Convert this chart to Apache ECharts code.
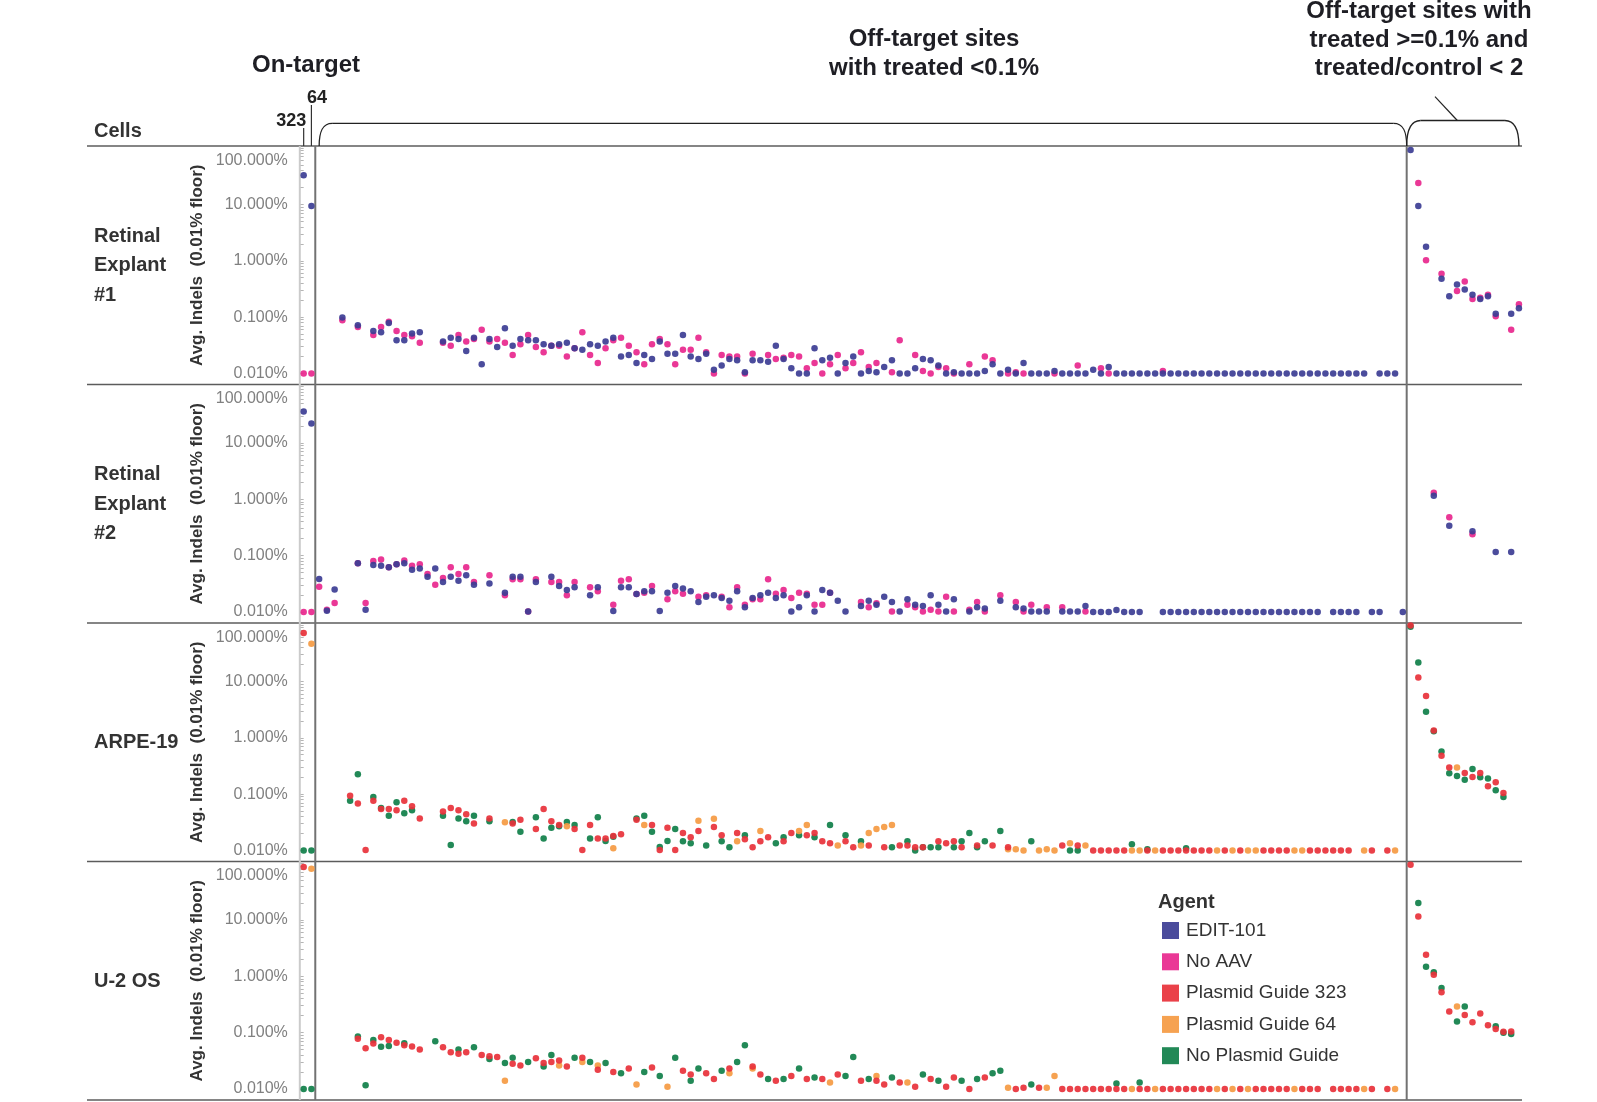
<!DOCTYPE html>
<html><head><meta charset="utf-8">
<script src="https://cdn.jsdelivr.net/npm/echarts@6/dist/echarts.min.js"></script>
<style>html,body{margin:0;padding:0;background:#fff}#main{width:1597px;height:1102px}</style>
</head><body><div id="main"></div>
<script>
const FONT = "'Liberation Sans', Arial, Helvetica, sans-serif";
const FLOOR = 0.01; // 0.01% floor

// ---- categories ----
const agents = ['EDIT-101', 'No AAV', 'Plasmid Guide 323', 'Plasmid Guide 64', 'No Plasmid Guide'];
const agentColors = ['#3c3d94', '#e8278d', '#e8313a', '#f59a42', '#0f7f49'];
const cellLines = ['Retinal\nExplant\n#1', 'Retinal\nExplant\n#2', 'ARPE-19', 'U-2 OS'];
const onTargetSites = ['323', '64'];
const N_ON = 2, N_LOW = 141, N_HIGH = 15;       // site groups along x
const N_SITES = N_ON + N_LOW + N_HIGH;

// ---- values: [site index, avg indels %] ----
const ex1_EDIT101 = [[0,33],[1,9.4],[5,0.098],[7,0.072],[9,0.057],[10,0.054],[11,0.079],[12,0.039],[13,0.039],[14,0.051],[15,0.054],[18,0.037],[19,0.043],[20,0.041],[21,0.025],[22,0.043],[23,0.0146],[24,0.041],[25,0.0296],[26,0.0635],[27,0.031],[28,0.041],[29,0.039],[30,0.039],[31,0.033],[32,0.031],[33,0.033],[34,0.035],[35,0.028],[36,0.0265],[37,0.033],[38,0.031],[39,0.037],[40,0.043],[41,0.020],[42,0.0213],[43,0.0154],[44,0.0213],[45,0.018],[46,0.037],[47,0.0225],[48,0.0225],[49,0.048],[50,0.020],[51,0.018],[52,0.0225],[53,0.0117],[54,0.0138],[55,0.018],[56,0.0171],[57,0.0105],[58,0.0171],[59,0.0171],[60,0.0162],[61,0.031],[62,0.018],[63,0.0124],[64,0.01],[65,0.01],[66,0.028],[67,0.0171],[68,0.0191],[69,0.01],[70,0.0154],[71,0.020],[72,0.01],[73,0.0111],[74,0.0105],[75,0.013],[76,0.0171],[77,0.01],[78,0.01],[79,0.0124],[80,0.018],[81,0.0171],[82,0.0138],[83,0.01],[84,0.0105],[85,0.01],[86,0.01],[87,0.01],[88,0.0111],[89,0.0146],[90,0.01],[91,0.0117],[92,0.01],[93,0.0154],[94,0.01],[95,0.01],[96,0.01],[97,0.0111],[98,0.01],[99,0.01],[100,0.01],[101,0.01],[102,0.0117],[103,0.01],[104,0.013],
  [143,92],[144,9.4],[145,1.77],[147,0.48],[148,0.235],[149,0.38],[150,0.31],[151,0.25],[152,0.21],[153,0.235],[154,0.115],[156,0.115],[157,0.144]];
const ex1_EDIT101_floorSites = [105,106,107,108,109,110,111,112,113,114,115,116,117,118,119,120,121,122,123,124,125,126,127,128,129,130,131,132,133,134,135,136,137,139,140,141];
const ex1_NoAAV = [[0,0.01],[1,0.01],[5,0.088],[7,0.067],[9,0.048],[10,0.067],[11,0.083],[12,0.057],[13,0.048],[14,0.046],[15,0.035],[18,0.035],[19,0.031],[20,0.048],[21,0.037],[22,0.041],[23,0.060],[24,0.037],[25,0.041],[26,0.035],[27,0.0213],[28,0.033],[29,0.048],[30,0.0296],[31,0.0238],[32,0.031],[33,0.031],[34,0.020],[35,0.028],[36,0.054],[37,0.0213],[38,0.0154],[39,0.028],[40,0.039],[41,0.043],[42,0.031],[43,0.0238],[44,0.0146],[45,0.033],[46,0.041],[47,0.033],[48,0.0146],[49,0.0265],[50,0.0265],[51,0.043],[52,0.0238],[53,0.01],[54,0.0213],[55,0.020],[56,0.020],[57,0.01],[58,0.0225],[60,0.0213],[61,0.018],[62,0.019],[63,0.0213],[64,0.020],[65,0.0124],[66,0.0154],[67,0.01],[68,0.0146],[69,0.0213],[70,0.0124],[71,0.0154],[72,0.0238],[73,0.013],[74,0.0154],[76,0.0105],[77,0.039],[79,0.0213],[80,0.0111],[81,0.01],[82,0.013],[83,0.0124],[84,0.01],[86,0.0146],[88,0.020],[89,0.0171],[91,0.01],[92,0.0105],[93,0.01],[97,0.01],[100,0.0138],[103,0.0124],[104,0.01],[111,0.0111],
  [144,24],[145,1.02],[147,0.59],[149,0.29],[150,0.43],[151,0.21],[152,0.22],[153,0.25],[154,0.104],[156,0.06],[157,0.17]];

const ex2_EDIT101 = [[0,36],[1,22],[2,0.0385],[3,0.0105],[4,0.025],[7,0.073],[8,0.011],[9,0.068],[10,0.066],[11,0.062],[12,0.07],[13,0.073],[14,0.056],[15,0.059],[16,0.042],[17,0.059],[18,0.034],[19,0.042],[20,0.036],[21,0.045],[22,0.0305],[24,0.032],[26,0.022],[27,0.042],[28,0.042],[29,0.0102],[30,0.034],[32,0.042],[33,0.029],[34,0.0246],[35,0.0274],[37,0.0198],[38,0.0274],[40,0.0104],[41,0.0274],[42,0.0274],[43,0.0209],[44,0.0233],[45,0.0233],[46,0.0104],[47,0.022],[48,0.029],[49,0.026],[50,0.0233],[51,0.015],[52,0.0187],[53,0.0198],[54,0.0177],[55,0.0159],[56,0.0233],[57,0.0121],[58,0.0177],[59,0.0198],[60,0.022],[61,0.0177],[62,0.0198],[63,0.0102],[64,0.0121],[65,0.0198],[66,0.0102],[67,0.0246],[68,0.022],[69,0.0159],[70,0.0102],[72,0.0128],[73,0.0159],[74,0.0135],[75,0.0187],[76,0.015],[77,0.0102],[78,0.0168],[79,0.0135],[80,0.0128],[81,0.0198],[82,0.0135],[83,0.0102],[84,0.0168],[86,0.0102],[87,0.0121],[88,0.0115],[90,0.0159],[92,0.0121],[93,0.0115],[94,0.0102],[95,0.0102],[96,0.0102],[98,0.0102],[99,0.0102],[100,0.0102],[101,0.0128],[105,0.0108],
  [146,1.15],[148,0.34],[151,0.27],[154,0.116],[156,0.116]];
const ex2_EDIT101_floorSites = [102,103,104,106,107,108,111,112,113,114,115,116,117,118,119,120,121,122,123,124,125,126,127,128,129,130,131,133,134,135,136,138,139,142];
const ex2_NoAAV = [[0,0.01],[1,0.01],[2,0.028],[3,0.011],[4,0.0145],[7,0.073],[8,0.0145],[9,0.08],[10,0.085],[11,0.062],[12,0.07],[13,0.082],[14,0.066],[15,0.07],[16,0.047],[17,0.0305],[18,0.04],[19,0.062],[20,0.047],[21,0.062],[22,0.034],[24,0.045],[26,0.0198],[27,0.038],[28,0.038],[29,0.0102],[30,0.038],[32,0.034],[33,0.034],[34,0.0198],[35,0.034],[37,0.0274],[38,0.0233],[40,0.0135],[41,0.036],[42,0.038],[43,0.0209],[44,0.022],[45,0.029],[47,0.0168],[48,0.0233],[49,0.021],[51,0.0187],[52,0.0198],[54,0.0187],[55,0.0121],[56,0.0274],[57,0.0135],[58,0.0168],[59,0.0168],[60,0.038],[61,0.021],[62,0.0246],[63,0.0177],[64,0.022],[65,0.021],[66,0.0135],[67,0.0135],[68,0.022],[72,0.015],[73,0.0121],[74,0.0143],[76,0.0102],[78,0.0135],[79,0.0121],[80,0.0102],[81,0.011],[82,0.0102],[83,0.0187],[84,0.0102],[86,0.011],[87,0.015],[88,0.0102],[90,0.0198],[92,0.015],[93,0.0102],[94,0.0135],[96,0.0121],[98,0.0121],[101,0.0102],
  [146,1.3],[148,0.48],[151,0.24]];

const arpe_PG323 = [[0,72],[6,0.094],[7,0.068],[8,0.0102],[9,0.076],[10,0.0546],[11,0.0546],[12,0.052],[13,0.076],[14,0.061],[15,0.037],[18,0.049],[19,0.057],[20,0.052],[21,0.044],[22,0.03],[24,0.037],[27,0.03],[28,0.035],[30,0.024],[31,0.0546],[32,0.033],[33,0.0284],[35,0.024],[36,0.0102],[37,0.0284],[38,0.0164],[39,0.0164],[40,0.018],[41,0.0194],[43,0.035],[45,0.0284],[46,0.0102],[47,0.0254],[48,0.0102],[49,0.0204],[50,0.0172],[51,0.0221],[53,0.0261],[54,0.0187],[56,0.0204],[57,0.0159],[58,0.0114],[59,0.0146],[60,0.0172],[62,0.0146],[63,0.0204],[65,0.0187],[66,0.0204],[67,0.0146],[68,0.0134],[70,0.0146],[71,0.0114],[73,0.0123],[75,0.0114],[77,0.0123],[78,0.0123],[79,0.0114],[80,0.0114],[82,0.0146],[83,0.0134],[84,0.0146],[85,0.0114],[87,0.0123],[89,0.0123],[91,0.0114],[98,0.0123],[100,0.0123],[102,0.01],
  [143,98],[144,11.7],[145,5.5],[146,1.35],[147,0.48],[148,0.296],[150,0.238],[151,0.202],[152,0.238],[153,0.138],[154,0.163],[155,0.105]];
const arpe_PG323_floorSites = [103,104,105,106,109,111,112,113,114,115,116,117,119,121,124,125,126,127,130,131,132,133,134,135,138,140];
const arpe_PG64 = [[1,46.5],[26,0.0317],[34,0.027],[40,0.011],[44,0.0284],[51,0.0336],[53,0.0364],[56,0.0146],[59,0.0221],[64,0.0221],[65,0.0284],[69,0.0123],[72,0.0123],[73,0.0204],[74,0.024],[75,0.0261],[76,0.0284],[91,0.0105],[92,0.0105],[93,0.01],[95,0.01],[96,0.0105],[97,0.01],[99,0.0134],[101,0.0123],[149,0.296]];
const arpe_PG64_floorSites = [107,108,110,118,120,122,123,128,129,137,141];
const arpe_NPG = [[0,0.01],[1,0.01],[6,0.076],[7,0.225],[9,0.089],[10,0.057],[11,0.0415],[12,0.072],[13,0.046],[14,0.052],[18,0.0415],[19,0.0125],[20,0.037],[21,0.033],[22,0.0415],[24,0.033],[27,0.032],[28,0.0216],[30,0.039],[31,0.0164],[32,0.0254],[33,0.0269],[34,0.032],[35,0.0284],[37,0.0164],[38,0.039],[39,0.0147],[40,0.0175],[43,0.037],[44,0.0415],[45,0.0216],[46,0.0115],[47,0.0147],[48,0.024],[49,0.0146],[50,0.0134],[52,0.0123],[54,0.0146],[55,0.0114],[57,0.0187],[61,0.0134],[62,0.0172],[64,0.0187],[66,0.0172],[68,0.0284],[70,0.0187],[72,0.0146],[76,0.0114],[78,0.0146],[79,0.01],[80,0.0114],[81,0.0114],[82,0.0114],[84,0.0114],[85,0.0146],[86,0.0204],[87,0.0114],[88,0.0146],[90,0.0221],[94,0.0146],[99,0.01],[100,0.01],[107,0.0129],[109,0.0105],[114,0.011],
  [143,93],[144,21.7],[145,2.9],[146,1.3],[147,0.57],[148,0.235],[149,0.21],[150,0.179],[151,0.28],[152,0.2],[153,0.19],[154,0.117],[155,0.089]];

const u2_PG323 = [[0,87],[7,0.078],[8,0.053],[9,0.064],[10,0.083],[11,0.074],[12,0.066],[13,0.060],[14,0.057],[15,0.05],[18,0.055],[19,0.045],[20,0.042],[21,0.045],[23,0.04],[24,0.038],[25,0.037],[27,0.028],[28,0.026],[30,0.035],[31,0.029],[32,0.03],[33,0.032],[34,0.025],[36,0.036],[38,0.022],[40,0.02],[42,0.023],[45,0.024],[49,0.021],[50,0.018],[52,0.019],[53,0.015],[55,0.023],[58,0.025],[59,0.018],[61,0.014],[63,0.017],[65,0.015],[67,0.015],[69,0.018],[72,0.014],[74,0.014],[75,0.012],[77,0.013],[79,0.011],[81,0.015],[83,0.011],[84,0.016],[86,0.01],[88,0.016],[92,0.01],[93,0.0105],[95,0.0105],[98,0.01],
  [143,95],[144,11.5],[145,2.4],[146,1.06],[147,0.52],[148,0.236],[150,0.206],[151,0.153],[152,0.218],[153,0.135],[154,0.116],[155,0.104],[156,0.105]];
const u2_PG323_floorSites = [99,100,101,102,103,104,105,106,108,109,111,112,113,114,115,116,117,119,121,123,124,125,126,127,129,130,131,133,134,135,136,138,140];
const u2_PG64 = [[1,81],[26,0.014],[33,0.026],[36,0.03],[38,0.026],[43,0.012],[47,0.011],[55,0.019],[58,0.023],[68,0.013],[74,0.017],[78,0.013],[91,0.0105],[96,0.0105],[97,0.017],[149,0.29]];
const u2_PG64_floorSites = [107,110,118,120,122,128,137,141];
const u2_NPG = [[0,0.01],[1,0.01],[7,0.085],[8,0.0116],[9,0.074],[10,0.056],[11,0.058],[13,0.065],[17,0.07],[20,0.05],[22,0.055],[24,0.034],[26,0.029],[27,0.036],[29,0.03],[31,0.025],[32,0.04],[35,0.036],[37,0.03],[39,0.029],[41,0.019],[44,0.02],[46,0.017],[48,0.036],[50,0.014],[51,0.023],[54,0.021],[56,0.03],[57,0.06],[60,0.015],[62,0.015],[64,0.023],[66,0.016],[70,0.017],[71,0.037],[73,0.015],[76,0.016],[80,0.018],[82,0.014],[85,0.014],[87,0.015],[89,0.019],[90,0.021],[94,0.012],[105,0.0125],[108,0.013],
  [144,19.9],[145,1.47],[146,1.18],[147,0.62],[149,0.157],[150,0.29],[154,0.13],[155,0.1],[156,0.095]];

// ---- panel -> series (draw order: first drawn at bottom) ----
const panels = [
  [['No AAV', ex1_NoAAV, []], ['EDIT-101', ex1_EDIT101, ex1_EDIT101_floorSites]],
  [['No AAV', ex2_NoAAV, []], ['EDIT-101', ex2_EDIT101, ex2_EDIT101_floorSites]],
  [['No Plasmid Guide', arpe_NPG, []], ['Plasmid Guide 64', arpe_PG64, arpe_PG64_floorSites], ['Plasmid Guide 323', arpe_PG323, arpe_PG323_floorSites]],
  [['No Plasmid Guide', u2_NPG, []], ['Plasmid Guide 64', u2_PG64, u2_PG64_floorSites], ['Plasmid Guide 323', u2_PG323, u2_PG323_floorSites]]
];

// ---- layout ----
const PANEL_TOP = 146, PANEL_H = 238.5, GRID_OFF = 2, GRID_H = 225.5;
const GRID_LEFT = 299.8, GRID_W = 1223, LINE_X0 = 87, LINE_X1 = 1522;
const PANEL_BOTTOM = PANEL_TOP + cellLines.length * PANEL_H;

const minorTickLogs = [];
[-2, -1, 0, 1].forEach(e => { for (let m = 1; m <= 9; m++) minorTickLogs.push(Math.log10(m * Math.pow(10, e))); });
minorTickLogs.push(2);

const chart = echarts.init(document.getElementById('main'), null, {renderer: 'canvas'});
const colorOf = name => agentColors[agents.indexOf(name)];

const option = {
  animation: false,
  backgroundColor: '#fff',
  textStyle: {fontFamily: FONT},
  grid: cellLines.map((c, i) => ({left: GRID_LEFT, top: PANEL_TOP + i * PANEL_H + GRID_OFF, width: GRID_W, height: GRID_H, outerBoundsMode: 'none', containLabel: false})),
  xAxis: cellLines.map((c, i) => ({gridIndex: i, type: 'value', min: -0.5, max: N_SITES - 0.5, show: false})),
  yAxis: cellLines.map((c, i) => ({
    gridIndex: i, type: 'value', min: -2, max: 2, interval: 1,
    axisLine: {show: false},
    axisTick: {show: true, length: 4, lineStyle: {color: '#b5b5b5', width: 1}, customValues: minorTickLogs},
    splitLine: {show: false},
    axisLabel: {
      fontSize: 16, color: '#808080', margin: 12, fontFamily: FONT,
      formatter: v => { const s = Math.pow(10, v).toFixed(3) + '%'; return v >= 2 ? '{top|' + s + '}' : s; },
      rich: {top: {padding: [25, 0, 0, 0], fontSize: 16, color: '#808080', fontFamily: FONT}}
    }
  })),
  legend: {
    data: agents, orient: 'vertical', left: 1162, top: 921, padding: 0,
    itemWidth: 17, itemHeight: 17, itemGap: 12.3, icon: 'rect', selectedMode: false,
    textStyle: {fontSize: 19, color: '#333', fontFamily: FONT, lineHeight: 17, padding: [0, 0, 0, 2]}
  },
  series: []
};
panels.forEach((plist, i) => {
  plist.forEach(([name, pairs, floorSites]) => {
    const data = pairs.concat(floorSites.map(k => [k, FLOOR])).map(([k, v]) => [k, Math.log10(v)]);
    option.series.push({
      type: 'scatter', name, xAxisIndex: i, yAxisIndex: i, data,
      symbol: 'circle', symbolSize: 6.5, silent: true, clip: false,
      itemStyle: {color: colorOf(name), opacity: 0.92}
    });
  });
});
chart.setOption(option);

// ---- frame lines, braces, texts ----
const xPix = k => chart.convertToPixel({gridIndex: 0}, [k, 0])[0];
const g = [];
const line = (x1, y1, x2, y2, stroke, w) => g.push({type: 'line', z: 1, silent: true, shape: {x1, y1, x2, y2}, style: {stroke, lineWidth: w}});
const text = (x, y, t, o) => g.push({type: 'text', z: 5, silent: true, x, y, rotation: o.rot || 0,
  style: Object.assign({text: t, fontFamily: FONT, fill: '#222', align: 'center', verticalAlign: 'middle'}, o.style)});

for (let i = 0; i <= cellLines.length; i++) {
  const y = PANEL_TOP + i * PANEL_H;
  line(LINE_X0, y, LINE_X1, y, '#5c5c5c', 1.6);
}
line(GRID_LEFT, PANEL_TOP, GRID_LEFT, PANEL_BOTTOM, '#cbcbcb', 2);
const divOn = xPix(N_ON - 0.5), divHigh = xPix(N_ON + N_LOW - 0.5);
line(divOn, PANEL_TOP, divOn, PANEL_BOTTOM, '#727272', 2);
line(divHigh, PANEL_TOP, divHigh, PANEL_BOTTOM, '#727272', 2);

// on-target site ticks + labels
const x323 = xPix(0), x64 = xPix(1);
line(x323, 128, x323, PANEL_TOP, '#333', 1.2);
line(x64, 105, x64, PANEL_TOP, '#333', 1.2);
text(x323 - 12.5, 120.7, onTargetSites[0], {style: {fontSize: 18, fontWeight: 'bold'}});
text(x64 + 5.5, 98.3, onTargetSites[1], {style: {fontSize: 18, fontWeight: 'bold'}});

// braces
function brace(x0, x1, yt, r) {
  const yb = PANEL_TOP;
  g.push({type: 'bezierCurve', z: 1, silent: true, shape: {x1: x0, y1: yb, cpx1: x0, cpy1: yb - 14, cpx2: x0 + 3, cpy2: yt, x2: x0 + r, y2: yt}, style: {stroke: '#222', lineWidth: 1.3, fill: null}});
  line(x0 + r, yt, x1 - r, yt, '#222', 1.3);
  g.push({type: 'bezierCurve', z: 1, silent: true, shape: {x1: x1 - r, y1: yt, cpx1: x1 - 3, cpy1: yt, cpx2: x1, cpy2: yb - 14, x2: x1, y2: yb}, style: {stroke: '#222', lineWidth: 1.3, fill: null}});
}
brace(xPix(N_ON), divHigh, 123.3, 13);
brace(divHigh, xPix(N_SITES - 1), 120.5, 14);
line(1435, 96.7, 1457.3, 120.5, '#222', 1.2);

// headers
text(94, 131.7, 'Cells', {style: {fontSize: 20, fontWeight: 'bold', fill: '#333', align: 'left'}});
text(306, 65, 'On-target', {style: {fontSize: 24, fontWeight: 'bold', fill: '#1e1e24'}});
text(934, 53.5, 'Off-target sites\nwith treated <0.1%', {style: {fontSize: 24, fontWeight: 'bold', fill: '#1e1e24', lineHeight: 29}});
text(1419, 40, 'Off-target sites with\ntreated >=0.1% and\ntreated/control < 2', {style: {fontSize: 24, fontWeight: 'bold', fill: '#1e1e24', lineHeight: 28.3}});

// row labels + y titles
cellLines.forEach((c, i) => {
  const cy = PANEL_TOP + i * PANEL_H + PANEL_H / 2;
  text(94, cy + 0.5, c, {style: {fontSize: 20, fontWeight: 'bold', fill: '#333', align: 'left', lineHeight: 29.5}});
  text(197, cy, 'Avg. Indels  (0.01% floor)', {rot: Math.PI / 2, style: {fontSize: 17, fontWeight: 'bold', fill: '#333'}});
});

// legend title
text(1158, 902.5, 'Agent', {style: {fontSize: 20, fontWeight: 'bold', fill: '#333', align: 'left'}});

chart.setOption({graphic: {elements: g}});
</script></body></html>
